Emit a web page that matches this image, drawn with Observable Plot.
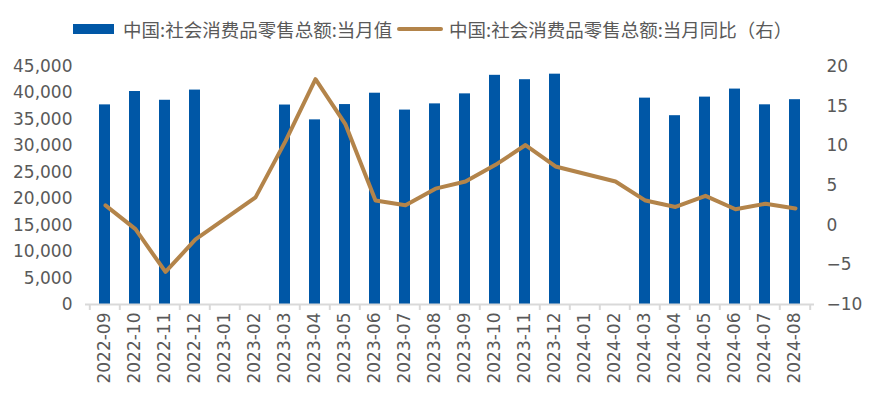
<!DOCTYPE html>
<html>
<head>
<meta charset="utf-8">
<script src="https://cdn.jsdelivr.net/npm/d3@7"></script>
<script src="https://cdn.jsdelivr.net/npm/@observablehq/plot@0.6"></script>
<style>
  body { margin: 0; background: #fff; }
  #wrap { position: relative; width: 869px; height: 411px; }
  #legend { position: relative; height: 50px; width: 869px; font-family: "Noto Sans CJK SC", sans-serif; font-size: 18.5px; color: #595959; }
  #legend .item { position: absolute; top: 16px; display: flex; align-items: center; white-space: nowrap; line-height: 26px; }
  #legend .sw-bar { width: 41px; height: 10px; background: #0057A6; margin-right: 9px; }
  #legend .sw-line { width: 46px; height: 4px; background: #B3844A; border-radius: 2px; margin-right: 6px; }
  #chart { position: absolute; left: 0; top: 50px; width: 869px; height: 361px; }
  #chart svg { position: absolute; left: 0; top: 0; max-width: none !important; }
</style>
</head>
<body>
<div id="wrap">
  <div id="legend"></div>
  <div id="chart"></div>
</div>
<script>
const months = ["2022-09","2022-10","2022-11","2022-12","2023-01","2023-02","2023-03","2023-04","2023-05","2023-06","2023-07","2023-08","2023-09","2023-10","2023-11","2023-12","2024-01","2024-02","2024-03","2024-04","2024-05","2024-06","2024-07","2024-08"];
const salesValue = [37745,40271,38615,40542,null,null,37715,34910,37803,39951,36761,37933,39826,43333,42505,43550,null,null,39020,35699,39211,40732,37757,38726];
const salesYoY = [2.5,-0.5,-5.9,-1.8,null,3.5,10.6,18.4,12.7,3.1,2.5,4.6,5.5,7.6,10.1,7.4,null,5.5,3.1,2.3,3.7,2.0,2.7,2.1];
const leftTicks = [0,5000,10000,15000,20000,25000,30000,35000,40000,45000];
const rightTicks = [-10,-5,0,5,10,15,20];
const seriesNames = ["中国:社会消费品零售总额:当月值","中国:社会消费品零售总额:当月同比（右）"];

const barColor = "#0057A6";
const lineColor = "#B3844A";
const textColor = "#595959";
const W = 869, H = 361;
const mL = 85, mR = 55, mT = 16, mB = 107;
const step = (W - mL - mR) / months.length;

// legend
const legend = document.getElementById("legend");
legend.innerHTML = `
  <div class="item" style="left:73px"><span class="sw-bar"></span>${seriesNames[0]}</div>
  <div class="item" style="left:397px"><span class="sw-line"></span>${seriesNames[1]}</div>`;

const barData = months.map((m, i) => ({month: m, value: salesValue[i]})).filter(d => d.value != null);
const lineData = months.map((m, i) => ({month: m, yoy: salesYoY[i]})).filter(d => d.yoy != null);

const common = {
  width: W, height: H,
  marginLeft: mL, marginRight: mR, marginTop: mT, marginBottom: mB,
  style: {fontFamily: "DejaVu Sans, sans-serif", fontSize: "17px", color: textColor, background: "transparent", overflow: "visible"}
};

const bars = Plot.plot({
  ...common,
  x: {type: "band", domain: months, paddingInner: 0.62, paddingOuter: 0.31},
  y: {domain: [0, 45000]},
  marks: [
    Plot.barY(barData, {x: "month", y: "value", fill: barColor}),
    Plot.ruleY([0], {stroke: "#D9D9D9", strokeWidth: 2}),
    Plot.axisY({ticks: leftTicks, tickSize: 0, tickPadding: 13, tickFormat: d3.format(","), fill: textColor, label: null}),
    Plot.axisX({ticks: months, tickSize: 0, tickPadding: 8, tickRotate: -90, fill: textColor, label: null}),
    Plot.axisX({ticks: months, tickSize: 6, tickFormat: () => "", dx: -step / 2, stroke: "#D9D9D9", strokeWidth: 2, label: null}),
    Plot.axisX({ticks: [months[months.length - 1]], tickSize: 6, tickFormat: () => "", dx: step / 2, stroke: "#D9D9D9", strokeWidth: 2, label: null})
  ]
});

const line = Plot.plot({
  ...common,
  x: {type: "point", domain: months, padding: 0.5, axis: null},
  y: {domain: [-10, 20], axis: null},
  marks: [
    Plot.line(lineData, {x: "month", y: "yoy", stroke: lineColor, strokeWidth: 4, strokeLinejoin: "round", strokeLinecap: "round"}),
    Plot.axisY({anchor: "right", ticks: rightTicks, tickSize: 0, tickPadding: 12, fill: textColor, label: null})
  ]
});

const chart = document.getElementById("chart");
chart.appendChild(bars);
chart.appendChild(line);
</script>
</body>
</html>
